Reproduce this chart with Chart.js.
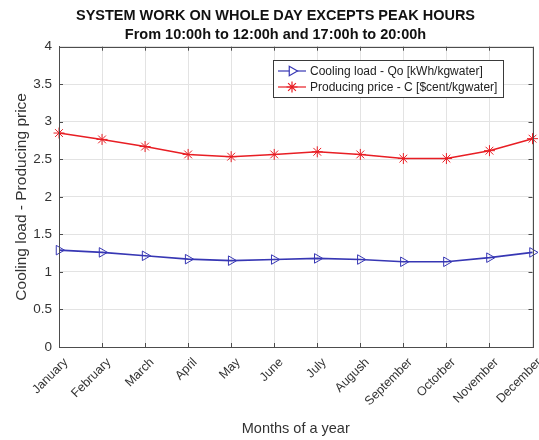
<!DOCTYPE html>
<html>
<head>
<meta charset="utf-8">
<script src="https://cdn.jsdelivr.net/npm/chart.js@4/dist/chart.umd.min.js"></script>
<style>
  html, body { margin: 0; padding: 0; background: #fff; }
  #wrap { width: 539px; height: 440px; position: relative; }
</style>
</head>
<body>
<div id="wrap"><canvas id="chart" width="539" height="440"></canvas></div>
<script>
// Data
const months = ['January', 'February', 'March', 'April', 'May', 'June', 'July',
  'Augush', 'September', 'Octorber', 'November', 'December'];
const coolingLoad = [1.29, 1.26, 1.215, 1.17, 1.15, 1.165, 1.18, 1.165, 1.135, 1.135, 1.19, 1.26];
const producingPrice = [2.85, 2.765, 2.67, 2.565, 2.535, 2.565, 2.60, 2.565, 2.51, 2.51, 2.615, 2.775];
const yTicks = [0, 0.5, 1, 1.5, 2, 2.5, 3, 3.5, 4];
const titleLines = ['SYSTEM WORK ON WHOLE DAY EXCEPTS PEAK HOURS', 'From 10:00h to 12:00h and 17:00h to 20:00h'];

const FONT = 'Arial, "Liberation Sans", sans-serif';
const AXIS_COLOR = '#4d4d4d';
const GRID_COLOR = '#e3e3e3';

// Box around the axes plus the legend drawn inside the plot, MATLAB style
const framePlugin = {
  id: 'frame',
  afterDraw(chart) {
    const { ctx, chartArea: a } = chart;
    ctx.save();
    ctx.strokeStyle = AXIS_COLOR;
    ctx.lineWidth = 1;
    ctx.strokeRect(Math.round(a.left) + 0.5, Math.round(a.top) + 0.5,
      Math.round(a.right - a.left), Math.round(a.bottom - a.top));

    // small inward tick marks on every edge
    const xs = chart.scales.x, ys = chart.scales.y;
    ctx.beginPath();
    months.forEach((m, i) => {
      const px = Math.round(xs.getPixelForValue(i)) + 0.5;
      ctx.moveTo(px, a.top); ctx.lineTo(px, a.top + 4);
      ctx.moveTo(px, a.bottom); ctx.lineTo(px, a.bottom - 4);
    });
    yTicks.forEach(v => {
      const py = Math.round(ys.getPixelForValue(v)) + 0.5;
      ctx.moveTo(a.right, py); ctx.lineTo(a.right - 4, py);
      ctx.moveTo(a.left, py); ctx.lineTo(a.left + 4, py);
    });
    ctx.stroke();

    // legend
    const lx = 273, ly = 60, lw = 230, lh = 37;
    ctx.fillStyle = '#fff';
    ctx.fillRect(lx, ly, lw, lh);
    ctx.strokeStyle = '#3a3a3a';
    ctx.strokeRect(lx + 0.5, ly + 0.5, lw, lh);
    ctx.font = '12px ' + FONT;
    ctx.textBaseline = 'middle';
    chart.data.datasets.forEach((ds, i) => {
      const cy = ly + 11 + i * 16;
      ctx.strokeStyle = ds.borderColor;
      ctx.lineWidth = 1.2;
      ctx.beginPath();
      ctx.moveTo(lx + 5, cy); ctx.lineTo(lx + 33, cy);
      ctx.stroke();
      Chart.helpers.drawPoint(ctx, {
        pointStyle: ds.pointStyle, rotation: ds.pointRotation,
        radius: ds.pointRadius, borderWidth: 1
      }, lx + 19, cy);
      ctx.fillStyle = '#222';
      ctx.fillText(ds.label, lx + 37, cy + 1);
    });
    ctx.restore();
  }
};

new Chart(document.getElementById('chart'), {
  type: 'line',
  data: {
    labels: months,
    datasets: [
      {
        label: 'Cooling load - Qo [kWh/kgwater]',
        data: coolingLoad,
        borderColor: 'rgb(55, 55, 180)',
        backgroundColor: 'rgba(0,0,0,0)',
        borderWidth: 1.6,
        pointStyle: 'triangle',
        pointRotation: 90,
        pointRadius: 5.5,
        pointBorderWidth: 1,
        pointBackgroundColor: 'rgba(0,0,0,0)',
        tension: 0,
      },
      {
        label: 'Producing price - C [$cent/kgwater]',
        data: producingPrice,
        borderColor: 'rgb(232, 30, 36)',
        backgroundColor: 'rgba(0,0,0,0)',
        borderWidth: 1.6,
        pointStyle: 'star',
        pointRotation: 0,
        pointRadius: 5.5,
        pointBorderWidth: 1,
        tension: 0,
      },
    ],
  },
  options: {
    responsive: false,
    animation: false,
    layout: { padding: { left: 12, right: 0, top: 0, bottom: 0 } },
    plugins: {
      legend: { display: false },
      tooltip: { enabled: false },
      title: {
        display: true,
        text: titleLines,
        color: '#111',
        font: { family: FONT, size: 14.5, weight: 'bold', lineHeight: 1.3 },
        padding: { top: 7, bottom: 2 },
      },
    },
    scales: {
      x: {
        type: 'category',
        offset: false,
        grid: { color: GRID_COLOR, drawTicks: false },
        border: { color: AXIS_COLOR },
        ticks: {
          color: '#333',
          font: { family: FONT, size: 12.5 },
          maxRotation: 45,
          minRotation: 45,
          padding: 8,
          labelOffset: 7,
          autoSkip: false,
        },
        title: {
          display: true,
          text: 'Months of a year',
          color: '#333',
          font: { family: FONT, size: 14.5 },
          padding: { top: 4, bottom: 2 },
        },
        afterFit(scale) {
          scale.height = 93;
          scale.paddingLeft = 0;
          scale.paddingRight = 0;
        },
      },
      y: {
        min: 0,
        max: 4,
        afterBuildTicks(scale) { scale.ticks = yTicks.map(v => ({ value: v })); },
        grid: { color: GRID_COLOR, drawTicks: false },
        border: { color: AXIS_COLOR },
        ticks: {
          color: '#333',
          font: { family: FONT, size: 13.5 },
          padding: 7,
          callback: v => String(v),
        },
        title: {
          display: true,
          text: 'Cooling load - Producing price',
          color: '#333',
          font: { family: FONT, size: 15.5 },
          padding: { top: 0, bottom: 1 },
        },
        afterFit(scale) { scale.width = 47; },
      },
    },
  },
  plugins: [framePlugin],
});
</script>
</body>
</html>
